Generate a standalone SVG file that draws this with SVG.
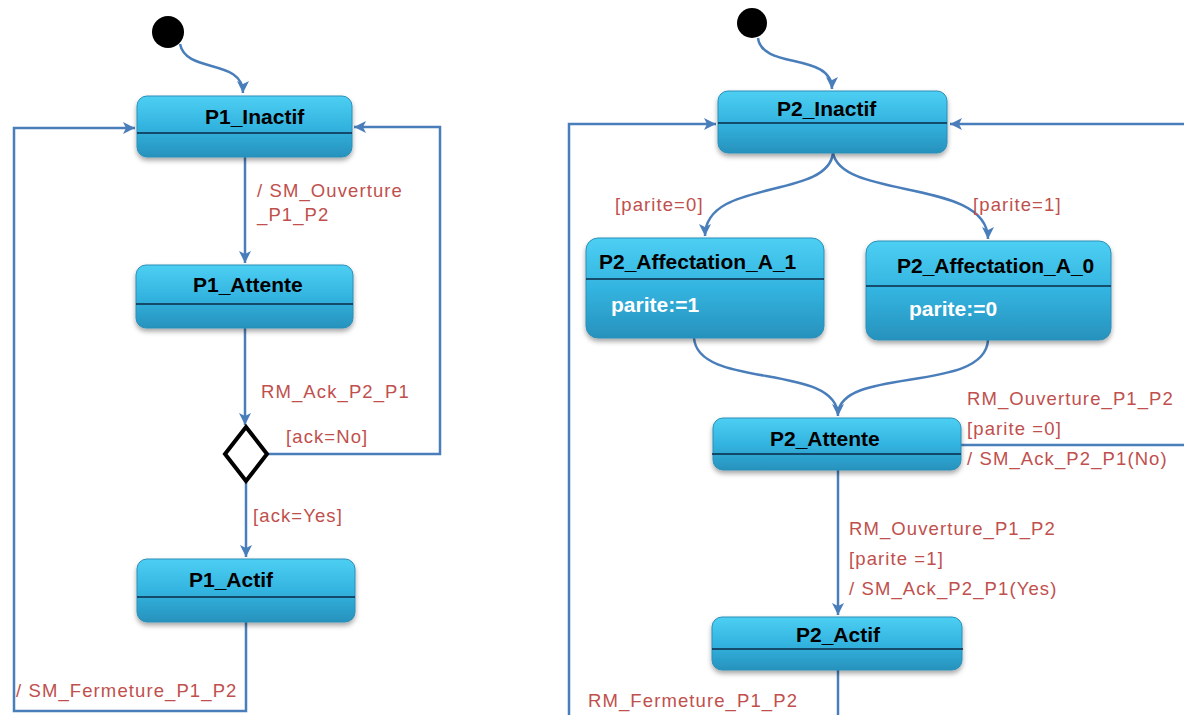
<svg xmlns="http://www.w3.org/2000/svg" width="1184" height="715" viewBox="0 0 1184 715">
<style>
.node{fill:url(#g);stroke:#2a8fb8;stroke-width:1;filter:url(#sh)}
.div{stroke:#0b2a45;stroke-width:1.3}
.t1{font-family:"Liberation Sans",Arial,sans-serif;font-weight:bold;font-size:21px;fill:#000}
.t2{font-family:"Liberation Sans",Arial,sans-serif;font-weight:bold;font-size:21px;fill:#000}
.tw{font-family:"Liberation Sans",Arial,sans-serif;font-weight:bold;font-size:21px;fill:#fff}
.lbl{font-family:"Liberation Sans",Arial,sans-serif;font-size:18.5px;letter-spacing:1.1px;fill:#c0504d}
.c{fill:none;stroke:#4a7ebb;stroke-width:2.5}
.ca{fill:none;stroke:#4a7ebb;stroke-width:2.5;marker-end:url(#ah)}
</style>
<defs>
<linearGradient id="g" x1="0" y1="0" x2="0" y2="1">
<stop offset="0" stop-color="#4dcff3"/>
<stop offset="0.5" stop-color="#33b4e0"/>
<stop offset="1" stop-color="#2792bd"/>
</linearGradient>
<filter id="sh" x="-10%" y="-10%" width="120%" height="140%">
<feDropShadow dx="0" dy="3" stdDeviation="2.5" flood-color="#000" flood-opacity="0.35"/>
</filter>
<marker id="ah" markerUnits="userSpaceOnUse" markerWidth="14" markerHeight="14" refX="12" refY="6" orient="auto">
<path d="M0,0 L12,6 L0,12 L3,6 Z" fill="#4a7ebb"/>
</marker>
</defs>

<g id="connectors">
<path class="ca" d="M180,44 C186,74 243,58 243,93"/>
<path class="ca" d="M245,157 L245,263"/>
<path class="ca" d="M245,328 L245,425"/>
<path class="ca" d="M246,481 L246,557"/>
<path class="ca" d="M267,454 L440,454 L440,127 L354,127"/>
<path class="ca" d="M246,622 L246,711 L14,711 L14,128 L135,128"/>
<path class="ca" d="M758,38 C762,70 832,52 832,89"/>
<path class="ca" d="M833,153 C828,200 705,178 705,236"/>
<path class="ca" d="M833,153 C842,200 988,178 988,239"/>
<path class="ca" d="M694,338 C698,390 838,362 838,416"/>
<path class="c" d="M988,340 C985,394 840,366 838,414"/>
<path class="ca" d="M838,470 L838,615"/>
<path class="c" d="M961,445 L1184,445"/>
<path class="ca" d="M1184,124 L950,124"/>
<path class="c" d="M838,670 L838,715"/>
<path class="ca" d="M569,715 L569,124 L716,124"/>
</g>

<g id="labels">
<text class="lbl" x="257" y="197">/ SM_Ouverture</text>
<text class="lbl" x="257" y="221">_P1_P2</text>
<text class="lbl" x="261" y="398">RM_Ack_P2_P1</text>
<text class="lbl" x="286" y="443">[ack=No]</text>
<text class="lbl" x="253" y="522">[ack=Yes]</text>
<text class="lbl" x="16" y="697">/ SM_Fermeture_P1_P2</text>
<text class="lbl" x="615" y="211">[parite=0]</text>
<text class="lbl" x="973" y="211">[parite=1]</text>
<text class="lbl" x="967" y="405">RM_Ouverture_P1_P2</text>
<text class="lbl" x="967" y="435">[parite =0]</text>
<text class="lbl" x="967" y="465">/ SM_Ack_P2_P1(No)</text>
<text class="lbl" x="849" y="535">RM_Ouverture_P1_P2</text>
<text class="lbl" x="849" y="565">[parite =1]</text>
<text class="lbl" x="849" y="595">/ SM_Ack_P2_P1(Yes)</text>
<text class="lbl" x="588" y="707">RM_Fermeture_P1_P2</text>
</g>

<g id="init1"><circle cx="168" cy="32" r="16" fill="#000"/></g>
<g id="init2"><circle cx="752" cy="23" r="15" fill="#000"/></g>

<g id="P1_Inactif">
<rect class="node" x="137" y="96" width="215" height="61" rx="10"/>
<line class="div" x1="137" y1="133" x2="352" y2="133"/>
<text class="t1" x="205" y="124">P1_Inactif</text>
</g>
<g id="P1_Attente">
<rect class="node" x="136" y="265" width="217" height="63" rx="10"/>
<line class="div" x1="136" y1="304" x2="353" y2="304"/>
<text class="t1" x="193" y="292">P1_Attente</text>
</g>
<g id="decision">
<path d="M246,427 L267,454 L246,481 L225,454 Z" fill="#fff" stroke="#000" stroke-width="4"/>
</g>
<g id="P1_Actif">
<rect class="node" x="137" y="559" width="218" height="63" rx="10"/>
<line class="div" x1="137" y1="597" x2="355" y2="597"/>
<text class="t1" x="189" y="587">P1_Actif</text>
</g>

<g id="P2_Inactif">
<rect class="node" x="718" y="91" width="229" height="62" rx="10"/>
<line class="div" x1="718" y1="123" x2="947" y2="123"/>
<text class="t2" x="777" y="116">P2_Inactif</text>
</g>
<g id="P2_Affectation_A_1">
<rect class="node" x="586" y="238" width="238" height="100" rx="12"/>
<line class="div" x1="586" y1="279" x2="824" y2="279"/>
<text class="t2" x="599" y="269">P2_Affectation_A_1</text>
<text class="tw" x="611" y="312">parite:=1</text>
</g>
<g id="P2_Affectation_A_0">
<rect class="node" x="866" y="241" width="245" height="99" rx="12"/>
<line class="div" x1="866" y1="286" x2="1111" y2="286"/>
<text class="t2" x="897" y="273">P2_Affectation_A_0</text>
<text class="tw" x="909" y="316">parite:=0</text>
</g>
<g id="P2_Attente">
<rect class="node" x="713" y="418" width="248" height="52" rx="10"/>
<line class="div" x1="712" y1="454" x2="961" y2="454"/>
<text class="t2" x="770" y="446">P2_Attente</text>
</g>
<g id="P2_Actif">
<rect class="node" x="712" y="617" width="250" height="53" rx="10"/>
<line class="div" x1="712" y1="649" x2="963" y2="649"/>
<text class="t2" x="796" y="642">P2_Actif</text>
</g>
</svg>
